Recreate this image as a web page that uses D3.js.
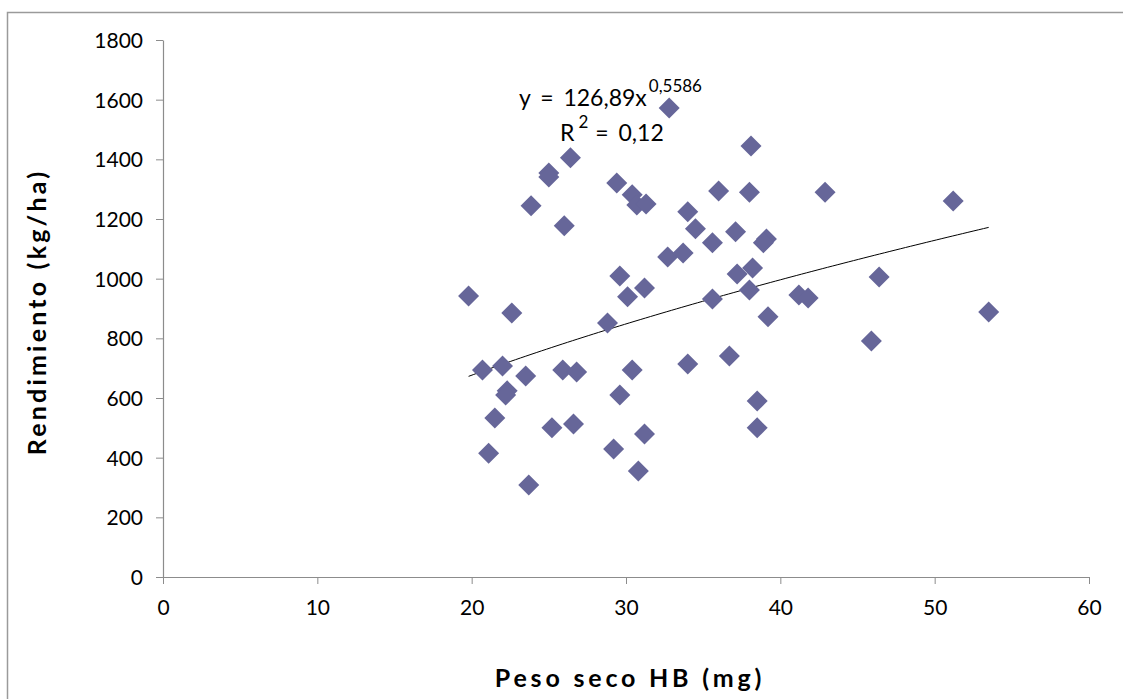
<!DOCTYPE html>
<html>
<head>
<meta charset="utf-8">
<script src="https://cdn.jsdelivr.net/npm/d3@7"></script>
<style>
  body { margin: 0; background: #fff; }
  text { font-family: Lato, "Open Sans", sans-serif; fill: #000; }
</style>
</head>
<body>
<svg id="chart" width="1123" height="699"></svg>
<script>
// peso seco HB (mg) vs rendimiento (kg/ha)
const pesoSeco = [
  32.8, 38.1, 26.4, 25.0, 25.0, 29.4, 36.0, 38.0, 42.9, 30.4, 30.7, 31.3,
  23.85, 34.0, 26.0, 34.5, 37.1, 35.6, 39.1, 38.9, 32.7, 33.7, 37.2, 38.2,
  29.6, 38.0, 31.2, 30.1, 19.8, 35.6, 41.2, 41.8,
  22.6, 28.8, 39.2, 20.7, 22.0, 23.5, 25.9, 26.8, 30.4, 34.0, 36.7, 22.3,
  22.2, 29.6, 38.5, 21.5, 25.2, 26.6, 31.2, 38.5, 21.1, 29.2, 30.8, 23.7,
  51.2, 46.4, 53.5, 45.9
];
const rendimiento = [
  1572, 1445, 1405, 1354, 1341, 1321, 1294, 1290, 1290, 1281, 1247, 1250,
  1244, 1224, 1177, 1167, 1157, 1120, 1133, 1120, 1073, 1086, 1016, 1036,
  1009, 962, 969, 939, 942, 932, 945, 935,
  885, 851, 872, 694, 707, 674, 694, 687, 694, 714, 741, 624,
  610, 610, 590, 533, 500, 513, 479, 500, 415, 429, 355, 308,
  1260, 1006, 888, 791
];
const xTicks = [0, 10, 20, 30, 40, 50, 60];
const yTicks = [0, 200, 400, 600, 800, 1000, 1200, 1400, 1600, 1800];
// fitted power trend: y = a * x^b
const trendA = 126.89, trendB = 0.5586;

const svg = d3.select("#chart");
const margin = { left: 163, right: 34, top: 40, bottom: 122 };
const width = 1123, height = 699;

// outer frame (only top/left visible in the original)
svg.append("rect")
  .attr("x", 7.5).attr("y", 12.5)
  .attr("width", 1200).attr("height", 800)
  .attr("fill", "none").attr("stroke", "#9a9a9a").attr("stroke-width", 1.5);

const x = d3.scaleLinear().domain([0, 60]).range([margin.left, width - margin.right]);
const y = d3.scaleLinear().domain([0, 1800]).range([height - margin.bottom, margin.top]);

const xAxis = svg.append("g")
  .attr("transform", `translate(0,${y(0)})`)
  .call(d3.axisBottom(x).tickValues(xTicks).tickFormat(d3.format("d"))
    .tickSize(7).tickPadding(16).tickSizeOuter(0));
const yAxis = svg.append("g")
  .attr("transform", `translate(${x(0)},0)`)
  .call(d3.axisLeft(y).tickValues(yTicks).tickFormat(d3.format("d"))
    .tickSize(7).tickPadding(13).tickSizeOuter(0));

[xAxis, yAxis].forEach(g => {
  g.select(".domain").attr("stroke", "#8c8c8c").attr("stroke-width", 1.2);
  g.selectAll(".tick line").attr("stroke", "#8c8c8c").attr("stroke-width", 1);
  g.selectAll(".tick text").attr("font-size", 21).attr("font-family", "Lato, sans-serif").attr("fill", "#000");
});
yAxis.selectAll(".tick text").attr("dy", "0.35em");

// trend line
const xmin = d3.min(pesoSeco), xmax = d3.max(pesoSeco);
const trend = d3.range(0, 101).map(i => {
  const xv = xmin + (xmax - xmin) * i / 100;
  return [xv, trendA * Math.pow(xv, trendB)];
});
svg.append("path")
  .datum(trend)
  .attr("fill", "none")
  .attr("stroke", "#000")
  .attr("stroke-width", 1)
  .attr("d", d3.line().x(d => x(d[0])).y(d => y(d[1])));

// points
const pts = pesoSeco.map((v, i) => ({ x: v, y: rendimiento[i] }));
svg.append("g").selectAll("path.pt")
  .data(pts)
  .join("path")
  .attr("class", "pt")
  .attr("transform", d => `translate(${x(d.x)},${y(d.y)})`)
  .attr("d", "M0,-10.5L10.5,0L0,10.5L-10.5,0Z")
  .attr("fill", "#666699");

// equation label
const eq = svg.append("text").attr("x", 519).attr("y", 106).attr("font-size", 23);
eq.append("tspan").text("y = 126,89x").attr("word-spacing", 4);
eq.append("tspan").text("0,5586").attr("font-size", 17).attr("dy", -14).attr("dx", 2);
const r2 = svg.append("text").attr("x", 560).attr("y", 141).attr("font-size", 23);
r2.append("tspan").text("R");
r2.append("tspan").text("2").attr("font-size", 17).attr("dy", -13).attr("dx", 4);
r2.append("tspan").text("= 0,12").attr("dy", 13).attr("dx", 7).attr("word-spacing", 4);

// axis titles
svg.append("text")
  .attr("x", 630).attr("y", 687)
  .attr("text-anchor", "middle")
  .attr("font-size", 25).attr("font-weight", "bold")
  .attr("letter-spacing", 3.8)
  .text("Peso seco HB (mg)");
svg.append("text")
  .attr("transform", "translate(46,312) rotate(-90)")
  .attr("text-anchor", "middle")
  .attr("font-size", 25).attr("font-weight", "bold")
  .attr("letter-spacing", 3.2)
  .text("Rendimiento (kg/ha)");
</script>
</body>
</html>
